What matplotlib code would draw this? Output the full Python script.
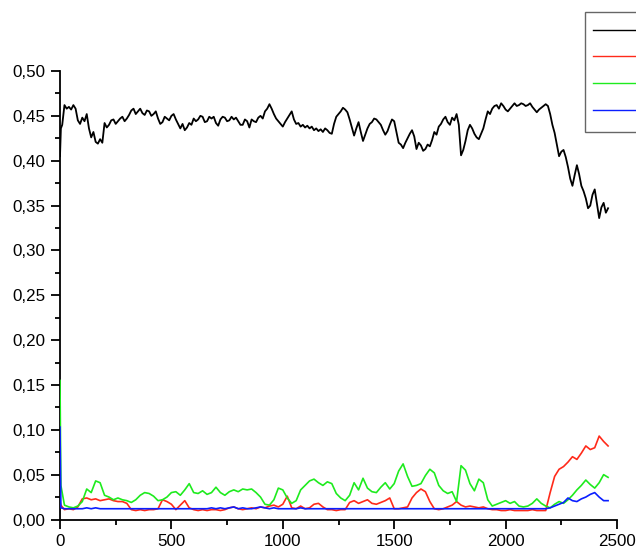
import numpy as np
import matplotlib
matplotlib.use('Agg')
import matplotlib.pyplot as plt
from matplotlib.ticker import MultipleLocator

# black series read every 10 steps (plus one early point)
black_steps = [0, 4] + list(range(10, 2461, 10))
black_vals = [
    0.405, 0.436, 0.440, 0.462, 0.458, 0.460, 0.457, 0.462, 0.458, 0.445, 0.441,
    0.448, 0.444, 0.452, 0.436, 0.426, 0.432, 0.421, 0.419, 0.424, 0.420,
    0.442, 0.437, 0.440, 0.445, 0.446, 0.441, 0.444, 0.447, 0.449, 0.444,
    0.447, 0.451, 0.456, 0.458, 0.452, 0.455, 0.458, 0.453, 0.451, 0.456,
    0.455, 0.450, 0.452, 0.455, 0.447, 0.441, 0.443, 0.449, 0.447, 0.445,
    0.450, 0.452, 0.446, 0.441, 0.436, 0.441, 0.434, 0.437, 0.442, 0.440,
    0.447, 0.444, 0.446, 0.450, 0.449, 0.443, 0.444, 0.449, 0.447, 0.449,
    0.442, 0.439, 0.446, 0.449, 0.448, 0.444, 0.445, 0.449, 0.446, 0.448,
    0.444, 0.440, 0.440, 0.446, 0.444, 0.437, 0.446, 0.444, 0.443, 0.448,
    0.450, 0.447, 0.455, 0.458, 0.463, 0.458, 0.452, 0.447, 0.444, 0.441,
    0.438, 0.443, 0.447, 0.451, 0.455, 0.446, 0.441, 0.442, 0.438, 0.440,
    0.437, 0.439, 0.436, 0.438, 0.434, 0.436, 0.433, 0.435, 0.432, 0.436,
    0.434, 0.431, 0.430, 0.441, 0.449, 0.452, 0.455, 0.459, 0.457, 0.454,
    0.446, 0.437, 0.428, 0.436, 0.443, 0.432, 0.422, 0.429, 0.436, 0.441,
    0.443, 0.447, 0.446, 0.443, 0.440, 0.434, 0.429, 0.433, 0.440, 0.446,
    0.444, 0.432, 0.420, 0.418, 0.414, 0.420, 0.425, 0.430, 0.434, 0.427,
    0.413, 0.420, 0.417, 0.411, 0.413, 0.418, 0.416, 0.423, 0.432, 0.429,
    0.438, 0.441, 0.446, 0.449, 0.443, 0.440, 0.448, 0.445, 0.452, 0.440,
    0.406, 0.412, 0.422, 0.434, 0.440, 0.436, 0.430, 0.426, 0.424, 0.430,
    0.436, 0.446, 0.455, 0.452, 0.458, 0.461, 0.462, 0.458, 0.464, 0.461,
    0.457, 0.455, 0.458, 0.461, 0.464, 0.461, 0.462, 0.464, 0.463, 0.461,
    0.462, 0.464, 0.460, 0.457, 0.454, 0.457, 0.459, 0.461, 0.463, 0.461,
    0.452, 0.440, 0.431, 0.418, 0.405, 0.410, 0.412, 0.404, 0.393, 0.380,
    0.372, 0.384, 0.395, 0.385, 0.372, 0.366, 0.358, 0.347, 0.350, 0.362,
    0.368, 0.352, 0.336, 0.348, 0.353, 0.342, 0.347,
]

# coloured series read every 20 steps (plus one early point)
steps = [0, 4] + list(range(20, 2461, 20))

red_vals = [
    0.020, 0.016,
    0.011, 0.012, 0.011, 0.014, 0.023, 0.024, 0.022, 0.023, 0.021,
    0.022, 0.023, 0.021, 0.020, 0.020, 0.018, 0.011, 0.010, 0.011, 0.010,
    0.011, 0.011, 0.012, 0.022, 0.020, 0.017, 0.011, 0.016, 0.021, 0.013,
    0.011, 0.010, 0.011, 0.010, 0.011, 0.011, 0.010, 0.011, 0.013, 0.014,
    0.012, 0.011, 0.012, 0.013, 0.012, 0.014, 0.013, 0.015, 0.016, 0.014,
    0.017, 0.026, 0.013, 0.012, 0.015, 0.012, 0.013, 0.017, 0.018, 0.014,
    0.011, 0.011, 0.010, 0.011, 0.011, 0.019, 0.021, 0.018, 0.020, 0.022,
    0.018, 0.017, 0.019, 0.021, 0.024, 0.012, 0.012, 0.013, 0.014, 0.024,
    0.030, 0.034, 0.031, 0.020, 0.012, 0.011, 0.012, 0.014, 0.016, 0.020,
    0.016, 0.014, 0.015, 0.014, 0.013, 0.014, 0.012, 0.011, 0.011, 0.010,
    0.010, 0.011, 0.010, 0.010, 0.010, 0.010, 0.011, 0.010, 0.010, 0.010,
    0.030, 0.048, 0.056, 0.059, 0.064, 0.070, 0.067, 0.074, 0.082, 0.078,
    0.080, 0.093, 0.087, 0.082,
]

green_vals = [
    0.155, 0.038,
    0.016, 0.014, 0.013, 0.015, 0.020, 0.034, 0.030, 0.043, 0.041,
    0.027, 0.025, 0.022, 0.024, 0.022, 0.021, 0.019, 0.022, 0.027, 0.030,
    0.029, 0.026, 0.021, 0.022, 0.025, 0.030, 0.031, 0.027, 0.033, 0.040,
    0.030, 0.029, 0.032, 0.028, 0.030, 0.036, 0.030, 0.027, 0.031, 0.033,
    0.031, 0.034, 0.033, 0.034, 0.030, 0.025, 0.017, 0.016, 0.022, 0.035,
    0.033, 0.024, 0.018, 0.021, 0.033, 0.038, 0.043, 0.045, 0.041, 0.038,
    0.042, 0.040, 0.029, 0.024, 0.021, 0.027, 0.041, 0.033, 0.046, 0.035,
    0.031, 0.030, 0.036, 0.041, 0.034, 0.040, 0.054, 0.062, 0.048, 0.037,
    0.038, 0.040, 0.049, 0.056, 0.052, 0.038, 0.032, 0.029, 0.031, 0.020,
    0.060, 0.055, 0.040, 0.032, 0.045, 0.041, 0.022, 0.015, 0.017, 0.019,
    0.021, 0.018, 0.020, 0.015, 0.014, 0.015, 0.018, 0.023, 0.018, 0.015,
    0.013, 0.017, 0.020, 0.018, 0.022, 0.027, 0.033, 0.038, 0.044, 0.039,
    0.035, 0.041, 0.050, 0.047,
]

blue_vals = [
    0.103, 0.013,
    0.012, 0.012, 0.012, 0.012, 0.012, 0.013, 0.012, 0.013, 0.012,
    0.012, 0.012, 0.012, 0.012, 0.012, 0.012, 0.012, 0.012, 0.012, 0.012,
    0.012, 0.012, 0.012, 0.012, 0.012, 0.012, 0.012, 0.012, 0.012, 0.012,
    0.012, 0.012, 0.012, 0.012, 0.013, 0.012, 0.013, 0.012, 0.013, 0.014,
    0.012, 0.013, 0.012, 0.012, 0.013, 0.014, 0.013, 0.012, 0.013, 0.012,
    0.012, 0.012, 0.012, 0.012, 0.013, 0.012, 0.012, 0.012, 0.012, 0.012,
    0.012, 0.012, 0.012, 0.012, 0.012, 0.012, 0.012, 0.012, 0.012, 0.012,
    0.012, 0.012, 0.012, 0.012, 0.012, 0.012, 0.012, 0.012, 0.012, 0.012,
    0.012, 0.012, 0.012, 0.012, 0.012, 0.012, 0.012, 0.012, 0.012, 0.012,
    0.012, 0.012, 0.012, 0.012, 0.012, 0.012, 0.012, 0.012, 0.012, 0.012,
    0.012, 0.012, 0.012, 0.012, 0.012, 0.012, 0.012, 0.012, 0.012, 0.012,
    0.013, 0.015, 0.017, 0.019, 0.024, 0.021, 0.020, 0.023, 0.025, 0.028,
    0.030, 0.025, 0.021, 0.021,
]

x_ticks = [0, 500, 1000, 1500, 2000, 2500]
y_ticks = [0.00, 0.05, 0.10, 0.15, 0.20, 0.25, 0.30, 0.35, 0.40, 0.45, 0.50]
y_tick_labels = ['0,00', '0,05', '0,10', '0,15', '0,20', '0,25',
                 '0,30', '0,35', '0,40', '0,45', '0,50']
# legend text lies outside the visible canvas in the original
legend_labels = [' ', ' ', ' ', ' ']

plt.rcParams['font.family'] = ['Liberation Sans', 'DejaVu Sans']

fig = plt.figure(figsize=(6.36, 5.49), dpi=100)
ax = fig.add_axes([60 / 636, 1 - 519.5 / 549, 557 / 636, 448.5 / 549])

# lines sit on top of the axis spines, as in the original
l1, = ax.plot(black_steps, black_vals, color='#000000', linewidth=1.3, zorder=3)
l2, = ax.plot(steps, red_vals, color='#FF2A1A', linewidth=1.2, zorder=3)
l3, = ax.plot(steps, green_vals, color='#1EEB1E', linewidth=1.2, zorder=3)
l4, = ax.plot(steps, blue_vals, color='#0A1EFF', linewidth=1.2, zorder=3)

ax.set_xlim(0, 2500)
ax.set_ylim(0, 0.5)
ax.set_xticks(x_ticks)
ax.set_xticklabels([str(t) for t in x_ticks])
ax.set_yticks(y_ticks)
ax.set_yticklabels(y_tick_labels)
ax.xaxis.set_minor_locator(MultipleLocator(250))
ax.yaxis.set_minor_locator(MultipleLocator(0.025))

for side in ['top', 'right']:
    ax.spines[side].set_visible(False)
for side in ['left', 'bottom']:
    ax.spines[side].set_linewidth(1.3)

ax.tick_params(which='major', direction='out', length=6.5, width=1.3,
               labelsize=12.2, pad=4)
ax.tick_params(which='minor', direction='out', length=3.8, width=1.3)

leg = ax.legend([l1, l2, l3, l4], legend_labels, loc='upper left',
                bbox_to_anchor=(585 / 636, 1 - 12 / 549),
                bbox_transform=fig.transFigure, fontsize=19, frameon=True,
                fancybox=False, handlelength=3.0, labelspacing=0.1,
                borderpad=0.3, borderaxespad=0)
leg.get_frame().set_edgecolor('#404040')
leg.get_frame().set_linewidth(1.0)
for handle in leg.get_lines():
    handle.set_linewidth(1.0)

fig.savefig('out.png', dpi=100)
